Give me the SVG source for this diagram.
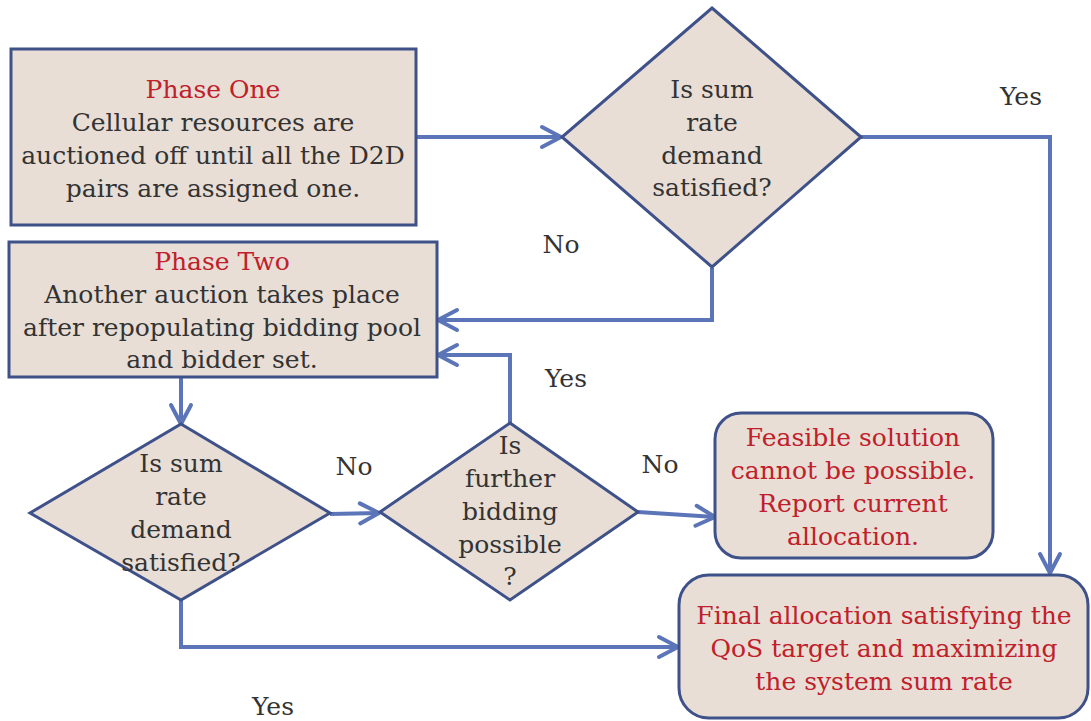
<svg xmlns="http://www.w3.org/2000/svg" width="1091" height="721" viewBox="0 0 1091 721">
<style>
.box{fill:#E8DED6;stroke:#3F5189;stroke-width:3}
.conn{fill:none;stroke:#5B75B8;stroke-width:4;stroke-linejoin:miter}
text{font-family:"DejaVu Serif","Liberation Serif",serif;font-size:25px;text-anchor:middle;fill:#333333}
.red{fill:#C0202A}
</style>
<defs>
<marker id="arr" markerUnits="userSpaceOnUse" markerWidth="26" markerHeight="26" viewBox="0 0 26 26" refX="22" refY="13" orient="auto">
<path d="M3,3 L22,13 L3,23" fill="none" stroke="#5B75B8" stroke-width="4" stroke-linecap="round" stroke-linejoin="round"/>
</marker>
</defs>
<rect width="1091" height="721" fill="#FFFFFF"/>
<g id="connectors">
<path class="conn" d="M416,137 L561,137" marker-end="url(#arr)"/>
<path class="conn" d="M861,137 L1050,137 L1050,573" marker-end="url(#arr)"/>
<path class="conn" d="M712,268 L712,320 L438,320" marker-end="url(#arr)"/>
<path class="conn" d="M181,377 L181,424" marker-end="url(#arr)"/>
<path class="conn" d="M330,514 L379,513" marker-end="url(#arr)"/>
<path class="conn" d="M510,423 L510,355 L438,355" marker-end="url(#arr)"/>
<path class="conn" d="M638,512 L715,517" marker-end="url(#arr)"/>
<path class="conn" d="M181,600 L181,647 L678,647" marker-end="url(#arr)"/>
</g>
<g id="phase-one">
<rect class="box" x="11" y="49" width="405" height="176"/>
<text x="213" y="98" class="red">Phase One</text>
<text x="213" y="131">Cellular resources are</text>
<text x="213" y="164">auctioned off until all the D2D</text>
<text x="213" y="197">pairs are assigned one.</text>
</g>
<g id="decision-1">
<polygon class="box" points="712,8 861,137 712,267 562,137"/>
<text x="712" y="98">Is sum</text>
<text x="712" y="131">rate</text>
<text x="712" y="164">demand</text>
<text x="712" y="196">satisfied?</text>
</g>
<g id="phase-two">
<rect class="box" x="9" y="242" width="428" height="135"/>
<text x="222" y="270" class="red">Phase Two</text>
<text x="222" y="303">Another auction takes place</text>
<text x="222" y="336">after repopulating bidding pool</text>
<text x="222" y="368">and bidder set.</text>
</g>
<g id="decision-2">
<polygon class="box" points="181,424 330,513 181,600 30,513"/>
<text x="181" y="472">Is sum</text>
<text x="181" y="505">rate</text>
<text x="181" y="538">demand</text>
<text x="181" y="571">satisfied?</text>
</g>
<g id="decision-3">
<polygon class="box" points="510,423 638,512 510,600 380,512"/>
<text x="510" y="454">Is</text>
<text x="510" y="487">further</text>
<text x="510" y="520">bidding</text>
<text x="510" y="553">possible</text>
<text x="510" y="585">?</text>
</g>
<g id="infeasible">
<rect class="box" x="715" y="413" width="278" height="145" rx="26"/>
<text x="853" y="446" class="red">Feasible solution</text>
<text x="853" y="479" class="red">cannot be possible.</text>
<text x="853" y="512" class="red">Report current</text>
<text x="853" y="545" class="red">allocation.</text>
</g>
<g id="final">
<rect class="box" x="679" y="575" width="409" height="143" rx="30"/>
<text x="884" y="624" class="red">Final allocation satisfying the</text>
<text x="884" y="657" class="red">QoS target and maximizing</text>
<text x="884" y="690" class="red">the system sum rate</text>
</g>
<g id="labels">
<text x="1021" y="105">Yes</text>
<text x="561" y="253">No</text>
<text x="566" y="387">Yes</text>
<text x="354" y="475">No</text>
<text x="660" y="473">No</text>
<text x="273" y="715">Yes</text>
</g>
</svg>
